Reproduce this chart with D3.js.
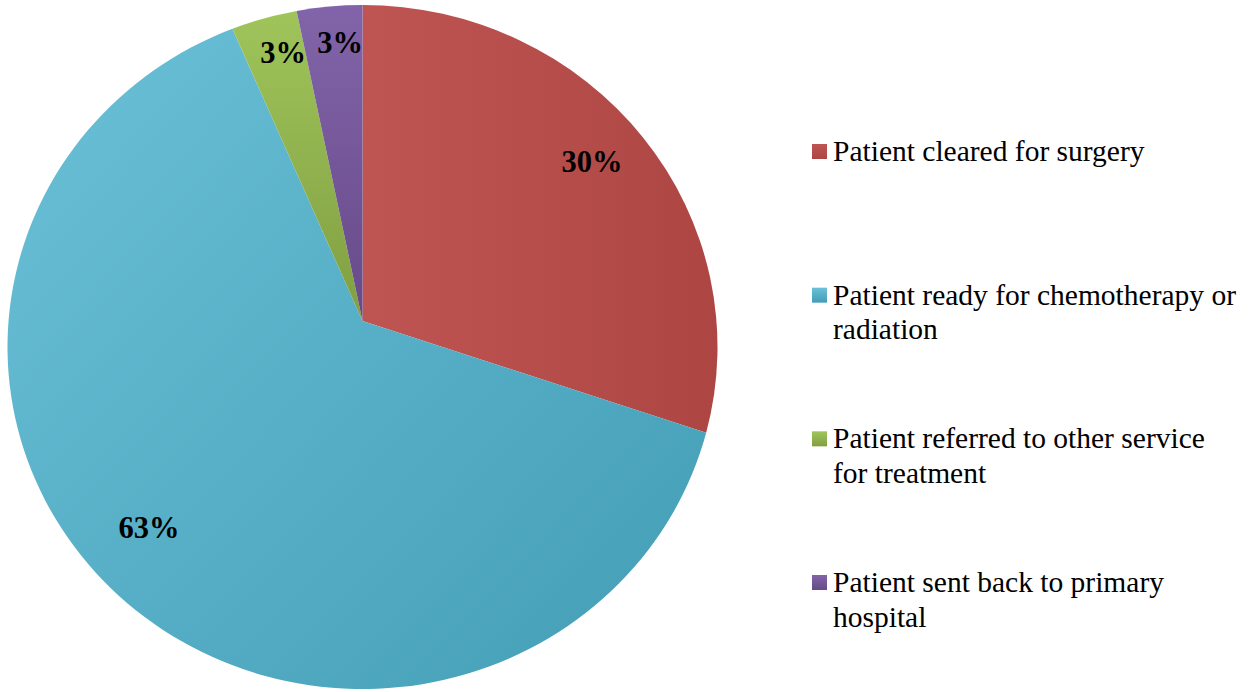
<!DOCTYPE html>
<html>
<head>
<meta charset="utf-8">
<script src="https://cdn.jsdelivr.net/npm/d3@7"></script>
<style>
  html, body { margin: 0; padding: 0; background: #ffffff; }
  svg { display: block; }
</style>
</head>
<body>
<svg id="chart" width="1250" height="692"></svg>
<script>
// ---- data ----
const categories = [
  "Patient cleared for surgery",
  "Patient ready for chemotherapy or\nradiation",
  "Patient referred to other service\nfor treatment",
  "Patient sent back to primary\nhospital"
];
const counts = [9, 19, 1, 1];
const percentLabels = ["30%", "63%", "3%", "3%"];
const colorsLight = ["#bf5552", "#6bc1d8", "#a0c55b", "#8264aa"];
const colorsDark  = ["#ad4643", "#429db5", "#819f42", "#674a88"];

// ---- layout ----
const svg = d3.select("#chart");
const cx = 362.5, cy = 347;      // ellipse centre
const rx = 355, ry = 342;        // ellipse radii
const vx = 362.5, vy = 321;      // slice apex

const pie = d3.pie().sort(null).value(d => d)(counts);

function hit(a) {
  const ux = Math.sin(a), uy = -Math.cos(a);
  const px = vx - cx, py = vy - cy;
  const A = ux * ux / (rx * rx) + uy * uy / (ry * ry);
  const B = 2 * (px * ux / (rx * rx) + py * uy / (ry * ry));
  const C = px * px / (rx * rx) + py * py / (ry * ry) - 1;
  const t = (-B + Math.sqrt(B * B - 4 * A * C)) / (2 * A);
  return [vx + t * ux, vy + t * uy];
}

function slicePath(d) {
  const p0 = hit(d.startAngle), p1 = hit(d.endAngle);
  const a0 = Math.atan2(p0[0] - cx, -(p0[1] - cy));
  const a1 = Math.atan2(p1[0] - cx, -(p1[1] - cy));
  let span = a1 - a0;
  while (span < 0) span += 2 * Math.PI;
  const large = span > Math.PI ? 1 : 0;
  const p = d3.path();
  p.moveTo(vx, vy);
  p.lineTo(p0[0], p0[1]);
  return p.toString() + ` A${rx},${ry} 0 ${large} 1 ${p1[0]},${p1[1]} Z`;
}

const defs = svg.append("defs");
const gradDirs = [
  [cx, 0, cx + rx, 0],
  [cx - rx, cy - ry, cx + rx, cy + ry],
  [0, cy - ry, 0, vy],
  [0, cy - ry, 0, vy]
];
pie.forEach((d, i) => {
  const g = defs.append("linearGradient")
    .attr("id", "g" + i)
    .attr("gradientUnits", "userSpaceOnUse")
    .attr("x1", gradDirs[i][0]).attr("y1", gradDirs[i][1])
    .attr("x2", gradDirs[i][2]).attr("y2", gradDirs[i][3]);
  g.append("stop").attr("offset", "0").attr("stop-color", colorsLight[i]);
  g.append("stop").attr("offset", "1").attr("stop-color", colorsDark[i]);
});

svg.append("g").selectAll("path")
  .data(pie)
  .join("path")
  .attr("d", slicePath)
  .attr("fill", (d, i) => `url(#g${i})`);

// data labels
const labelPos = [[592, 172], [149, 538], [283, 63], [340, 53]];
svg.append("g").selectAll("text")
  .data(pie)
  .join("text")
  .attr("x", (d, i) => labelPos[i][0])
  .attr("y", (d, i) => labelPos[i][1])
  .attr("text-anchor", "middle")
  .attr("font-family", "'Liberation Serif', 'Times New Roman', serif")
  .attr("font-weight", "bold")
  .attr("font-size", 30.5)
  .attr("fill", "#000")
  .text((d, i) => percentLabels[i]);

// legend
categories.forEach((c, i) => {
  const g = defs.append("linearGradient")
    .attr("id", "lg" + i)
    .attr("x1", 0).attr("y1", 0).attr("x2", 0).attr("y2", 1);
  g.append("stop").attr("offset", "0").attr("stop-color", colorsLight[i]);
  g.append("stop").attr("offset", "1").attr("stop-color", colorsDark[i]);
});
const legendY = d3.scalePoint().domain(d3.range(categories.length)).range([161, 592]);
const lg = svg.append("g").selectAll("g")
  .data(categories)
  .join("g")
  .attr("transform", (d, i) => `translate(0,${legendY(i)})`);
lg.append("rect")
  .attr("x", 812).attr("y", -17)
  .attr("width", 15).attr("height", 15)
  .attr("fill", (d, i) => `url(#lg${i})`);
lg.append("text")
  .attr("x", 833)
  .attr("font-family", "'Liberation Serif', 'Times New Roman', serif")
  .attr("font-size", 29.5)
  .attr("fill", "#000")
  .selectAll("tspan")
  .data(d => d.split("\n"))
  .join("tspan")
  .attr("x", 833)
  .attr("dy", (d, j) => j === 0 ? 0 : 34.5)
  .text(d => d);
</script>
</body>
</html>
